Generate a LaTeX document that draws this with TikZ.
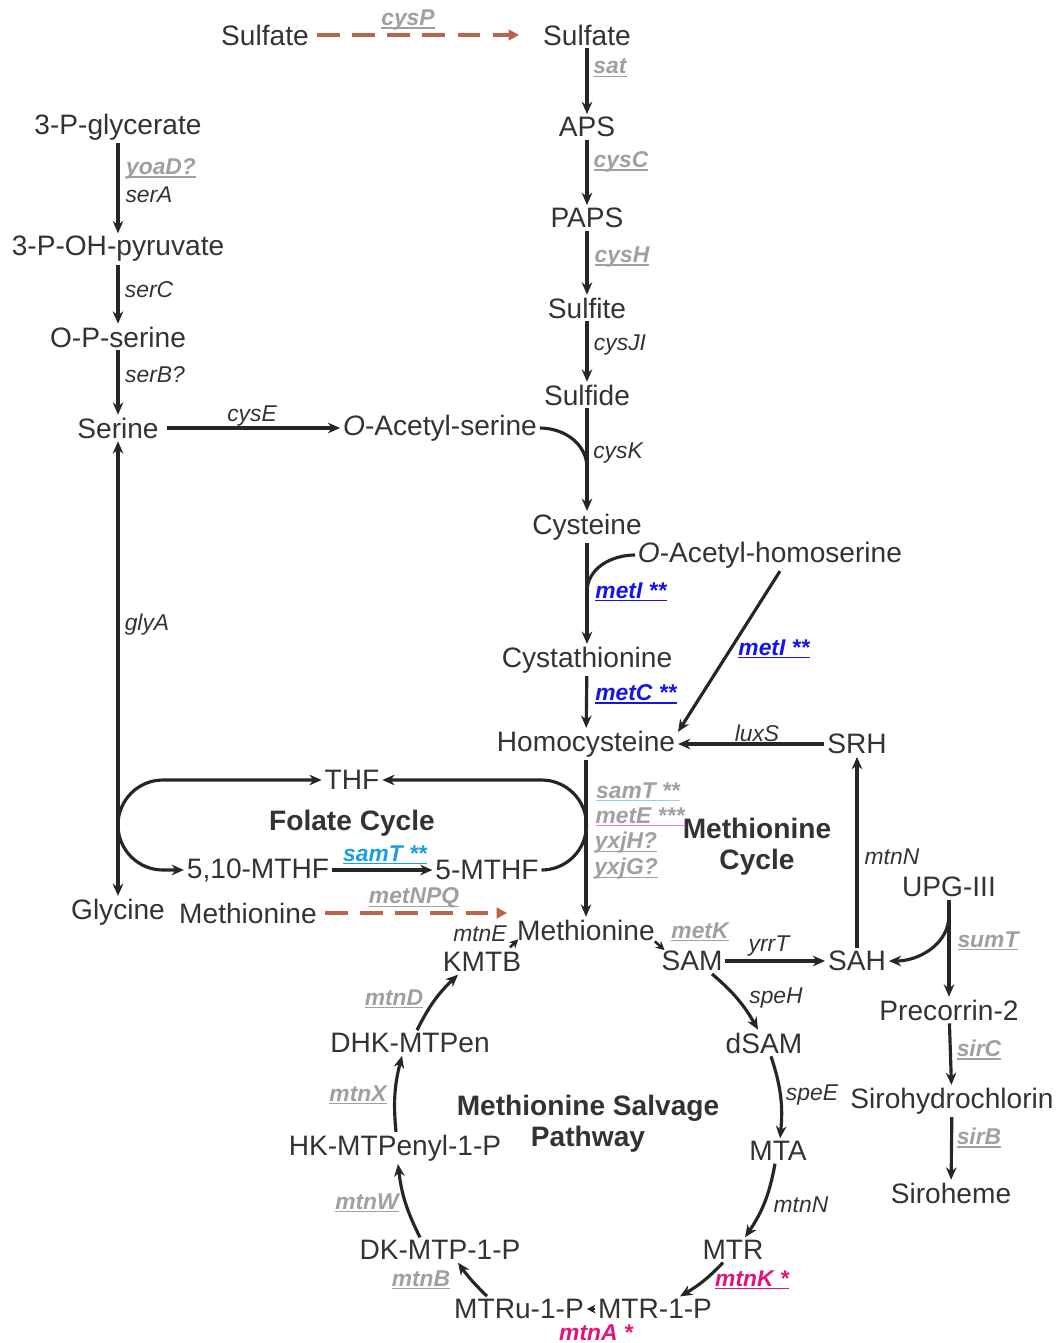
\documentclass[tikz,border=0pt]{standalone}
\usepackage{fontspec}
\setmainfont{Liberation Sans}
\usepackage{xcolor}
\definecolor{txtgray}{RGB}{51,51,51}
\definecolor{linegray}{RGB}{38,38,38}
\definecolor{genegray}{RGB}{160,160,160}
\definecolor{deepblue}{RGB}{20,20,235}
\definecolor{skyblue}{RGB}{25,160,225}
\definecolor{paleblue}{RGB}{150,210,240}
\definecolor{pinkline}{RGB}{240,120,235}
\definecolor{magentared}{RGB}{225,20,125}
\definecolor{rust}{RGB}{185,100,75}
\usepackage{tikz}
\usetikzlibrary{
  arrows.meta,
  positioning,
  calc
}
\newcommand\gul[2]{{\setbox0\hbox{#2}\rlap{\color{#1}\rule[-1.8pt]{\wd0}{0.8pt}}\box0}}

\begin{document}
\begin{tikzpicture}[
  x=0.02cm, y=0.02cm,
  met/.style={font=\fontsize{16}{19}\selectfont, text=txtgray, inner sep=1.5pt},
  title/.style={font=\fontsize{16}{17.6}\selectfont\bfseries, text=txtgray, align=center},
  gene/.style={font=\fontsize{13}{15}\selectfont\itshape, text=txtgray, inner sep=0pt},
  ggene/.style={font=\fontsize{13}{15}\selectfont\bfseries\itshape, text=genegray, inner sep=0pt},
  bgene/.style={ggene, text=deepblue},
  arr/.style={-{Stealth[length=7pt,width=6pt]}, line width=1.8pt, draw=linegray},
  arrs/.style={-{Stealth[length=5pt,width=5pt]}, line width=1.4pt, draw=linegray},
  arrboth/.style={{Stealth[length=7pt,width=6pt]}-{Stealth[length=7pt,width=6pt]}, line width=1.8pt, draw=linegray},
  link/.style={line width=1.8pt, draw=linegray},
  transp/.style={-{Triangle[length=6pt,width=6pt]}, line width=1.8pt, draw=rust, dash pattern=on 13pt off 7pt}
]
  \useasboundingbox (0,0) rectangle (1057,-1343);

  \node[met] (sulfo) at (265,-35) {Sulfate};
  \node[met] (sulfi) at (587,-35) {Sulfate};
  \node[met] (aps) at (587,-127) {APS};
  \node[met] (paps) at (587,-218) {PAPS};
  \node[met] (sulfite) at (587,-308) {Sulfite};
  \node[met] (sulfide) at (587,-395) {Sulfide};
  \node[met] (cys) at (587,-527) {Cysteine};
  \node[met] (cysta) at (587,-660) {Cystathionine};
  \node[met] (hcy) at (586,-744) {Homocysteine};
  \node[met] (met) at (586,-930) {Methionine};
  \node[met] (pgly) at (118,-127) {3-P-glycerate};
  \node[met] (phpyr) at (118,-249) {3-P-OH-pyruvate};
  \node[met] (pser) at (118,-337) {O-P-serine};
  \node[met] (ser) at (118,-428) {Serine};
  \node[met] (gly) at (118,-912) {Glycine};
  \node[met] (oas) at (440,-428) {\textit{O}-Acetyl-serine};
  \node[met] (oahs) at (770,-555) {\textit{O}-Acetyl-homoserine};
  \node[met] (srh) at (857,-744) {SRH};
  \node[met] (thf) at (352,-780) {THF};
  \node[met] (mthfa) at (258,-870) {5,10-MTHF};
  \node[met] (mthfb) at (487,-870) {5-MTHF};
  \node[met] (metx) at (248,-913) {Methionine};
  \node[met] (kmtb) at (482,-962) {KMTB};
  \node[met] (sam) at (692,-961) {SAM};
  \node[met] (sah) at (857,-961) {SAH};
  \node[met] (upg) at (949,-887) {UPG-III};
  \node[met] (pre) at (949,-1010) {Precorrin-2};
  \node[met] (shc) at (952,-1101) {Sirohydrochlorin};
  \node[met] (sheme) at (951,-1193) {Siroheme};
  \node[met] (dsam) at (764,-1043) {dSAM};
  \node[met] (mta) at (778,-1151) {MTA};
  \node[met] (mtr) at (733,-1250) {MTR};
  \node[met] (mtrp) at (655,-1309) {MTR-1-P};
  \node[met] (mtrup) at (519,-1309) {MTRu-1-P};
  \node[met] (dkmtp) at (440,-1250) {DK-MTP-1-P};
  \node[met] (hkmtp) at (395,-1148) {HK-MTPenyl-1-P};
  \node[met] (dhk) at (410,-1043) {DHK-MTPen};

  \node[title] (folate) at (352,-823) {Folate Cycle};
  \node[title] (metcyc) at (757,-847) {Methionine\\Cycle};
  \node[title] (salvage) at (588,-1124) {Methionine Salvage\\Pathway};

  \coordinate (jk) at (587,-468);
  \coordinate (ji) at (587,-592);
  \coordinate (fl) at (118,-825);
  \coordinate (ju) at (949,-915);

  \draw[transp, shorten <=3pt, shorten >=12pt] (sulfo) -- (sulfi);
  \draw[arr] (sulfi) -- (aps);
  \draw[arr] (aps) -- (paps);
  \draw[arr] (paps) -- (sulfite);
  \draw[arr] (sulfite) -- (sulfide);
  \draw[arr] (sulfide) -- (cys);
  \draw[link] (oas.east) to[out=0,in=90] (jk);
  \draw[arr] (cys) -- (cysta);
  \draw[link] (oahs.west) to[out=180,in=90] (ji);
  \draw[arr] (cysta) -- (hcy);
  \draw[arr] ($(oahs.south)+(10,0)$) -- ($(hcy.north east)+(0,-4)$);
  \draw[arr] (srh) -- (hcy);
  \draw[arr] (hcy) -- (met);

  \draw[arr] (pgly) -- (phpyr);
  \draw[arr] (phpyr) -- (pser);
  \draw[arr] (pser) -- (ser);
  \draw[arr, shorten <=3pt] (ser) -- (oas);
  \draw[arrboth] (ser) -- (gly);

  \draw[arr] (fl) arc[start angle=180, end angle=90, radius=45] -- (thf);
  \draw[arr] (fl) arc[start angle=180, end angle=270, radius=45] -- (mthfa);
  \draw[arr] (mthfb.east) arc[start angle=-90, end angle=90, radius=45] -- (thf);
  \draw[arr] (mthfa) -- (mthfb);
  \draw[transp, shorten <=3pt, shorten >=4pt] (metx) -- (metx -| met.west);

  \draw[arrs] ($(kmtb.north east)+(-14,2)$) -- ($(met.south west)+(4,4)$);
  \draw[arrs] ($(met.south east)+(-3,2)$) -- ($(sam.north west)+(6,-2)$);
  \draw[arr] (sam) -- (sah);
  \draw[arr] (sah) -- (srh);
  \draw[arr] (upg) -- (pre);
  \draw[arr] (ju) to[out=-90,in=0] (sah.east);
  \draw[arr] (pre) -- (shc);
  \draw[arr] (shc) -- (sheme);

  \draw[arr] ($(sam.south)+(20,0)$) to[bend left=10] ($(dsam.north)+(-6,0)$);
  \draw[arr] ($(dsam.south)+(7,0)$) to[bend left=12] ($(mta.north)+(2,0)$);
  \draw[arr] ($(mta.south)+(-3,0)$) to[bend left=12] ($(mtr.north)+(12,0)$);
  \draw[arr] ($(mtr.south)+(-10,0)$) to[bend left=8] ($(mtrp.north)+(25,0)$);
  \draw[arrs] (mtrp) -- (mtrup);
  \draw[arr] ($(mtrup.north)+(-32,0)$) to[bend left=5] ($(dkmtp.south)+(18,0)$);
  \draw[arr] ($(dkmtp.north)+(-20,0)$) to[bend left=10] ($(hkmtp.south)+(3,0)$);
  \draw[arr] ($(hkmtp.north)+(1,0)$) to[bend left=10] ($(dhk.south)+(-8,0)$);
  \draw[arr] ($(dhk.north)+(7,0)$) to[bend left=10] ($(kmtb.south west)+(18,0)$);

  \node[ggene] at (408,-20) {\gul{genegray}{cysP}};
  \node[ggene] at (610,-68) {\gul{genegray}{sat}};
  \node[ggene] at (621,-162) {\gul{genegray}{cysC}};
  \node[ggene] at (622,-257) {\gul{genegray}{cysH}};
  \node[gene] at (620,-345) {cysJI};
  \node[gene] at (618,-453) {cysK};
  \node[ggene] at (161,-169) {\gul{genegray}{yoaD?}};
  \node[gene] at (149,-195) {serA};
  \node[gene] at (149,-290) {serC};
  \node[gene] at (155,-375) {serB?};
  \node[gene] at (252,-416) {cysE};
  \node[gene] at (147,-625) {glyA};
  \node[bgene] at (631,-592) {\gul{deepblue}{metI **}};
  \node[bgene] at (774,-649) {\gul{deepblue}{metI **}};
  \node[bgene] at (636,-694) {\gul{deepblue}{metC **}};
  \node[gene] at (757,-733) {luxS};
  \node[ggene] at (638,-792) {\gul{paleblue}{samT **}};
  \node[ggene] at (640,-817) {\gul{pinkline}{metE ***}};
  \node[ggene] at (626,-843) {\gul{genegray}{yxjH?}};
  \node[ggene] at (626,-869) {\gul{genegray}{yxjG?}};
  \node[ggene, text=skyblue] at (385,-855) {\gul{skyblue}{samT **}};
  \node[ggene] at (414,-898) {\gul{genegray}{metNPQ}};
  \node[gene] at (480,-934) {mtnE};
  \node[ggene] at (700,-932) {\gul{genegray}{metK}};
  \node[gene] at (769,-946) {yrrT};
  \node[gene] at (892,-857) {mtnN};
  \node[ggene] at (988,-941) {\gul{genegray}{sumT}};
  \node[ggene] at (979,-1050) {\gul{genegray}{sirC}};
  \node[ggene] at (979,-1138) {\gul{genegray}{sirB}};
  \node[gene] at (776,-998) {speH};
  \node[gene] at (812,-1095) {speE};
  \node[gene] at (801,-1205) {mtnN};
  \node[ggene, text=magentared] at (752,-1280) {\gul{magentared}{mtnK *}};
  \node[ggene, text=magentared] at (596,-1333) {mtnA *};
  \node[ggene] at (421,-1280) {\gul{genegray}{mtnB}};
  \node[ggene] at (367,-1203) {\gul{genegray}{mtnW}};
  \node[ggene] at (358,-1095) {\gul{genegray}{mtnX}};
  \node[ggene] at (394,-999) {\gul{genegray}{mtnD}};
\end{tikzpicture}
\end{document}
